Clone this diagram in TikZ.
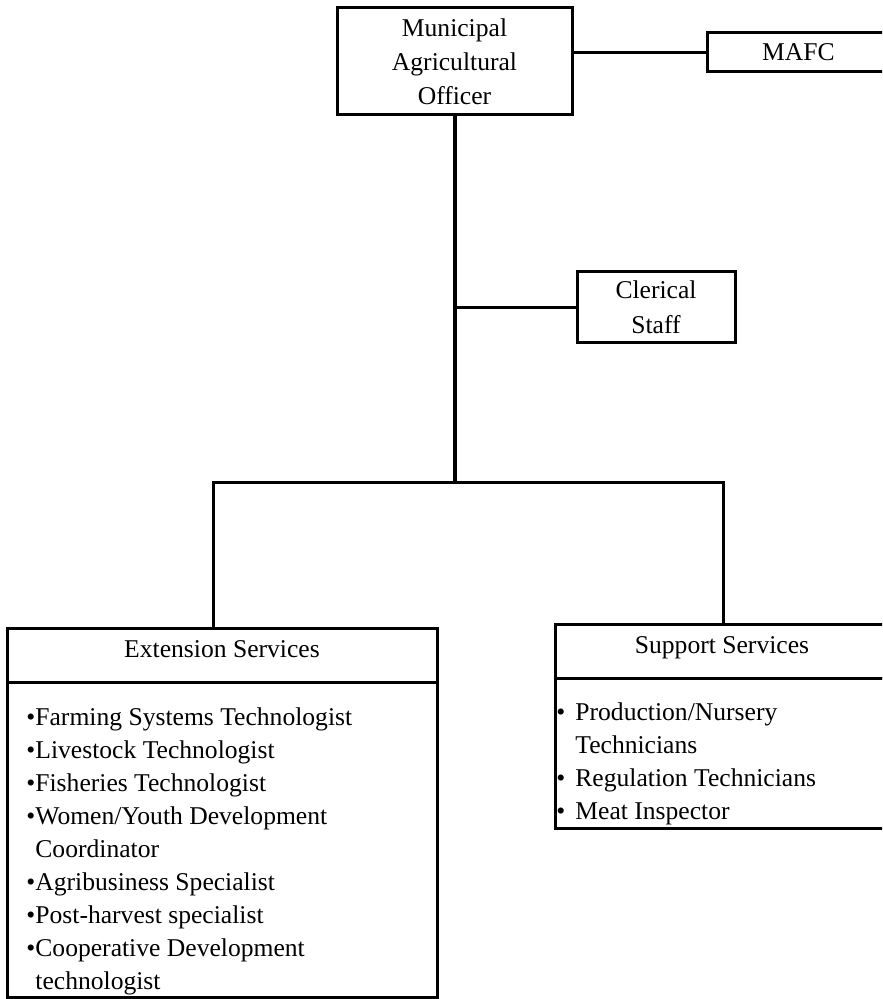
\documentclass[tikz,border=0pt]{standalone}
\usepackage{fontspec}
\setmainfont{Liberation Serif}
\tikzset{
  box/.style={draw, line width=1.5pt, rectangle, inner sep=0pt},
  conn/.style={line width=1.2pt},
  branch/.style={line width=1.5pt, line join=miter},
  trunk/.style={line width=2pt},
  txt/.style={font=\fontsize{12.8pt}{17pt}\selectfont, inner sep=0pt},
  item/.style={txt, anchor=base west},
}
\begin{document}
\begin{tikzpicture}[x=1pt,y=1pt]
\clip (0,0) rectangle (441,-499.5);
\fill[white] (0,0) rectangle (441,-499.5);

% top officer
\node[box, txt, align=center, minimum width=117.5pt, minimum height=53.5pt] (mao) at (227.25,-30.75) {Municipal\\Agricultural\\Officer};
% MAFC
\node[box, txt, minimum width=91.5pt, minimum height=19.5pt] (mafc) at (399.25,-26.25) {MAFC};
\draw[conn] (mao.east |- mafc.west) -- (mafc.west);

% clerical staff
\node[box, txt, align=center, font=\fontsize{12.8pt}{17.5pt}\selectfont, minimum width=79pt, minimum height=35.5pt] (clerk) at (328,-153.75) {Clerical\\Staff};

% extension services
\node[box, minimum width=215pt, minimum height=27pt] (exth) at (111,-327.5) {};
\node[box, minimum width=215pt, minimum height=157.5pt] (extb) at (111,-419.75) {};
\node[txt, anchor=base] (extt) at (111,-328.5) {Extension Services};

% support services
\node[box, minimum width=167.5pt, minimum height=27pt] (suph) at (361.25,-325.5) {};
\node[box, minimum width=167.5pt, minimum height=75pt] (supb) at (361.25,-376.5) {};
\node[txt, anchor=base] (supt) at (361,-326.5) {Support Services};

% junctions
\coordinate (j) at (mao.south |- 0,-241);
\coordinate (bl) at (106.5,-241);
\coordinate (br) at (361.5,-241);

\draw[trunk] (mao.south) -- (j);
\draw[conn] (clerk.west) -- (clerk.west -| mao.south);
\draw[branch] (bl |- exth.north) -- (bl) -- (br) -- (br |- suph.north);

% extension items
\node[item] (e1) at (17.5,-362.5) {\llap{•}Farming Systems Technologist};
\node[item] (e2) at (17.5,-379.05) {\llap{•}Livestock Technologist};
\node[item] (e3) at (17.5,-395.6) {\llap{•}Fisheries Technologist};
\node[item] (e4) at (17.5,-412.15) {\llap{•}Women/Youth Development};
\node[item] (e5) at (17.5,-428.7) {Coordinator};
\node[item] (e6) at (17.5,-445.25) {\llap{•}Agribusiness Specialist};
\node[item] (e7) at (17.5,-461.8) {\llap{•}Post-harvest specialist};
\node[item] (e8) at (17.5,-478.35) {\llap{•}Cooperative Development};
\node[item] (e9) at (17.5,-494.9) {technologist};

% support items
\node[item] (s1) at (287.5,-360) {\llap{•\hspace{5pt}}Production/Nursery};
\node[item] (s2) at (287.5,-376.5) {Technicians};
\node[item] (s3) at (287.5,-393) {\llap{•\hspace{5pt}}Regulation Technicians};
\node[item] (s4) at (287.5,-409.5) {\llap{•\hspace{5pt}}Meat Inspector};
\end{tikzpicture}
\end{document}
